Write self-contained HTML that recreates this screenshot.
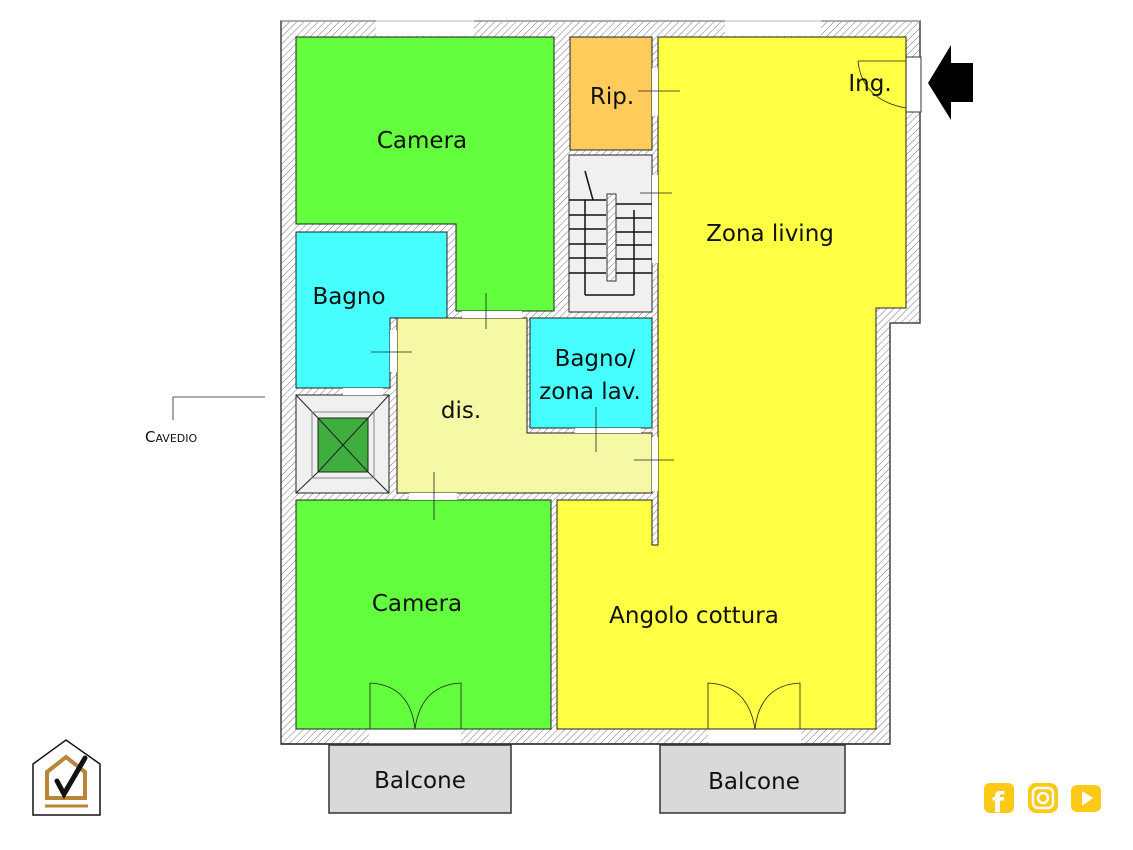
<!DOCTYPE html>
<html><head><meta charset="utf-8"><style>
html,body{margin:0;padding:0;background:#fff;}
svg{display:block;}
text{font-family:"DejaVu Sans","Liberation Sans",sans-serif;fill:#111;}
</style></head><body>
<svg width="1133" height="850" viewBox="0 0 1133 850" xmlns="http://www.w3.org/2000/svg">
<defs>
<pattern id="h" width="5" height="5" patternUnits="userSpaceOnUse" patternTransform="rotate(45)">
<rect width="5" height="5" fill="#fff"/><line x1="0" y1="0" x2="0" y2="5" stroke="#777" stroke-width="1"/>
</pattern>
</defs>
<!-- outer walls -->
<polygon points="281,21 920,21 920,323 890,323 890,744 281,744" fill="url(#h)" stroke="#444" stroke-width="1.5"/>
<!-- windows -->
<rect x="376" y="20" width="98" height="16" fill="#fff"/>
<rect x="725" y="20" width="96" height="16" fill="#fff"/>
<rect x="369" y="729" width="92" height="16" fill="#fff"/>
<rect x="708" y="729" width="93" height="16" fill="#fff"/>
<line x1="281" y1="21" x2="920" y2="21" stroke="#bbb"/>
<line x1="281" y1="744" x2="890" y2="744" stroke="#333" stroke-width="1.5"/>
<!-- entrance -->
<rect x="906" y="57" width="15" height="55" fill="#fff" stroke="#333" stroke-width="1"/>
<!-- rooms -->
<g stroke="#222" stroke-width="1">
<polygon points="296,37 554,37 554,311 456,311 456,224 296,224" fill="#63ff3f"/>
<polygon points="296,232 447,232 447,318 390,318 390,388 296,388" fill="#47ffff"/>
<rect x="570" y="37" width="82" height="113" fill="#ffcc5c"/>
<rect x="569" y="155" width="83" height="157" fill="#f0f0f0"/>
<polygon points="658,37 906,37 906,308 876,308 876,729 557,729 557,500 652,500 652,545 658,545" fill="#ffff44"/>
<polygon points="397,318 527,318 527,433 652,433 652,493 397,493" fill="#f5f8a4"/>
<rect x="530" y="318" width="122" height="110" fill="#47ffff"/>
<rect x="296" y="395" width="93" height="98" fill="#f0f0f0"/>
<rect x="318" y="418" width="50" height="54" fill="#3fae3f"/>
<rect x="296" y="500" width="255" height="229" fill="#63ff3f"/>
</g>
<!-- cavedio diagonals -->
<g stroke="#222" stroke-width="1">
<line x1="296" y1="395" x2="318" y2="418"/><line x1="389" y1="395" x2="368" y2="418"/>
<line x1="296" y1="493" x2="318" y2="472"/><line x1="389" y1="493" x2="368" y2="472"/>
<line x1="318" y1="418" x2="368" y2="472"/><line x1="368" y1="418" x2="318" y2="472"/>
<rect x="312" y="412" width="62" height="66" fill="none" stroke="#888"/>
</g>
<!-- doors openings (white) -->
<rect x="462" y="311" width="60" height="7" fill="#fff"/>
<rect x="390" y="330" width="7" height="42" fill="#fff"/>
<rect x="575" y="428" width="66" height="5" fill="#fff"/>
<rect x="652" y="437" width="6" height="54" fill="#fff"/>
<rect x="409" y="493" width="48" height="7" fill="#fff"/>
<rect x="652" y="68" width="6" height="48" fill="#fff"/>
<rect x="652" y="175" width="6" height="88" fill="#fff"/>
<rect x="343" y="388" width="40" height="7" fill="#fff"/>
<!-- stairs -->
<g stroke="#111" stroke-width="1.5" fill="none">
<line x1="585" y1="171" x2="593" y2="200"/>
<line x1="585" y1="200" x2="585" y2="295"/>
<line x1="585" y1="295" x2="634" y2="295"/><line x1="634" y1="295" x2="634" y2="210"/>
<line x1="569" y1="200" x2="606" y2="200"/>
<line x1="569" y1="215" x2="606" y2="215"/><line x1="569" y1="229" x2="606" y2="229"/>
<line x1="569" y1="244" x2="606" y2="244"/><line x1="569" y1="258" x2="606" y2="258"/>
<line x1="569" y1="273" x2="606" y2="273"/>
<line x1="616" y1="204" x2="652" y2="204"/><line x1="616" y1="218" x2="652" y2="218"/>
<line x1="616" y1="232" x2="652" y2="232"/><line x1="616" y1="245" x2="652" y2="245"/>
<line x1="616" y1="259" x2="652" y2="259"/><line x1="616" y1="273" x2="652" y2="273"/>
</g>
<rect x="607" y="194" width="9" height="87" fill="url(#h)" stroke="#333"/>
<!-- entrance door swing -->
<path d="M858 61 L906 61 M858 61 Q862 100 906 108" fill="none" stroke="#222" stroke-width="0.8"/>
<!-- balcony doors -->
<g fill="none" stroke="#222" stroke-width="0.8">
<path d="M370 729 L370 683 Q410 685 415 729 M461 729 L461 683 Q421 685 415 729"/>
<path d="M708 729 L708 683 Q748 685 755 729 M800 729 L800 683 Q760 685 755 729"/>
</g>
<!-- label lines -->
<g stroke="#222" stroke-width="0.8">
<line x1="638" y1="91" x2="680" y2="91"/>
<line x1="640" y1="193" x2="672" y2="193"/>
<line x1="486" y1="293" x2="486" y2="329"/>
<line x1="371" y1="352" x2="412" y2="352"/>
<line x1="596" y1="407" x2="596" y2="452"/>
<line x1="634" y1="460" x2="674" y2="460"/>
<line x1="434" y1="472" x2="434" y2="520"/>
<line x1="173" y1="397" x2="265" y2="397"/>
<line x1="173" y1="397" x2="173" y2="420"/>
</g>
<!-- balconies -->
<rect x="329" y="745" width="182" height="68" fill="#d9d9d9" stroke="#333" stroke-width="1.5"/>
<rect x="660" y="745" width="185" height="68" fill="#d9d9d9" stroke="#333" stroke-width="1.5"/>
<!-- arrow -->
<polygon points="928,83 951,45 951,63 973,63 973,102 951,102 951,120" fill="#000"/>
<!-- labels -->
<g font-size="23">
<text x="422" y="148" text-anchor="middle">Camera</text>
<text x="612" y="104" text-anchor="middle">Rip.</text>
<text x="870" y="91" text-anchor="middle">Ing.</text>
<text x="770" y="241" text-anchor="middle">Zona living</text>
<text x="349" y="304" text-anchor="middle">Bagno</text>
<text x="595" y="366" text-anchor="middle">Bagno/</text>
<text x="590" y="399" text-anchor="middle">zona lav.</text>
<text x="461" y="418" text-anchor="middle">dis.</text>
<text x="417" y="611" text-anchor="middle">Camera</text>
<text x="694" y="623" text-anchor="middle">Angolo cottura</text>
<text x="420" y="788" text-anchor="middle">Balcone</text>
<text x="754" y="789" text-anchor="middle">Balcone</text>
</g>
<text x="145" y="442" font-size="15">C<tspan font-size="11">AVEDIO</tspan></text>
<!-- logo -->
<polygon points="33,764 66,740 100,764 100,815 33,815" fill="#fff" stroke="#111" stroke-width="1.5"/>
<polygon points="47,772 66,757 85,772 85,798 47,798" fill="none" stroke="#b8863b" stroke-width="4"/>
<line x1="45" y1="806" x2="88" y2="806" stroke="#b8863b" stroke-width="3"/>
<path d="M57 781 L64 794 L85 758" fill="none" stroke="#111" stroke-width="5" stroke-linecap="round"/>
<!-- social icons -->
<rect x="984" y="783" width="30" height="30" rx="6" fill="#fcc917"/>
<text x="992" y="812" font-size="28" font-weight="bold" style="fill:#fff">f</text>
<rect x="1028" y="783" width="30" height="30" rx="8" fill="#fcc917"/>
<rect x="1033" y="788" width="20" height="20" rx="5" fill="none" stroke="#fff" stroke-width="2.5"/>
<circle cx="1043" cy="798" r="5" fill="none" stroke="#fff" stroke-width="2.5"/>
<rect x="1071" y="785" width="30" height="27" rx="6" fill="#fcc917"/>
<polygon points="1082,791 1082,806 1093,798" fill="#fff"/>
</svg>
</body></html>
